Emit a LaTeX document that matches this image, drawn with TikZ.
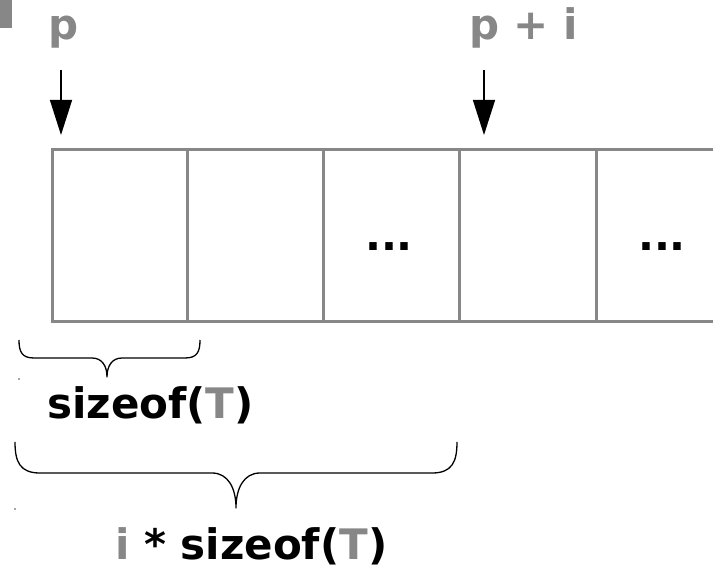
\documentclass[tikz,border=0pt]{standalone}
\usepackage{fontspec}
\setmainfont{DejaVu Sans}
\usetikzlibrary{arrows.meta}
\definecolor{cellgray}{HTML}{878787}
\begin{document}
\begin{tikzpicture}[x=1pt,y=-1pt,
  txt/.style={font=\fontsize{42}{50}\selectfont\bfseries, inner sep=0pt, anchor=base west},
  dots/.style={font=\fontsize{42}{50}\selectfont\bfseries, inner sep=0pt, anchor=base},
  ptr/.style={-{Triangle[width=22pt,length=35pt]}, line width=1.3pt, black},
  bracepath/.style={line width=1.3pt, black, line join=round},
  cellline/.style={cellgray, line width=3pt}]
\useasboundingbox (0,0) rectangle (713,569);

% clipped glyph fragment in the top-left corner
\fill[cellgray] (0,0) rectangle (12,28);

% pointer labels
\node[txt, cellgray] (p) at (48,40) {p};
\node[txt, cellgray] (ppi) at (469,40) {p + i};

% pointer arrows
\coordinate (pfrom) at (61,70);
\coordinate (pto) at (61,135);
\coordinate (pifrom) at (484,70);
\coordinate (pito) at (484,135);
\draw[ptr] (pfrom) -- (pto);
\draw[ptr] (pifrom) -- (pito);

% array cells, open on the right
\draw[cellline] (713,150) -- (52,150) -- (52,322) -- (713,322);
\foreach \x in {187,323,459,596}
  \draw[cellline] (\x,150) -- (\x,322);

\node[dots] (e1) at (389,251) {...};
\node[dots] (e2) at (662,251) {...};

% brace under the first cell
\draw[bracepath] (19,340) .. controls (19,352) and (22,358) .. (34,358)
  -- (92,358) .. controls (102,358) and (107,366) .. (107,377)
  .. controls (107,366) and (112,358) .. (122,358)
  -- (185,358) .. controls (197,358) and (200,352) .. (200,340);
\node[txt] (sz) at (47,419) {sizeof(\textcolor{cellgray}{T})};

% brace under the first i cells
\draw[bracepath] (15,442) .. controls (15,462) and (20,473) .. (40,473)
  -- (212,473) .. controls (228,473) and (236,488) .. (236,508)
  .. controls (236,488) and (244,473) .. (260,473)
  -- (432,473) .. controls (452,473) and (457,462) .. (457,442);
\node[txt] (isz) at (115,559) {\textcolor{cellgray}{i} * sizeof(\textcolor{cellgray}{T})};

% stray specks at the left margin
\fill[black!70] (19,379) circle (0.8);
\fill[black!70] (15,509) circle (0.8);
\end{tikzpicture}
\end{document}
